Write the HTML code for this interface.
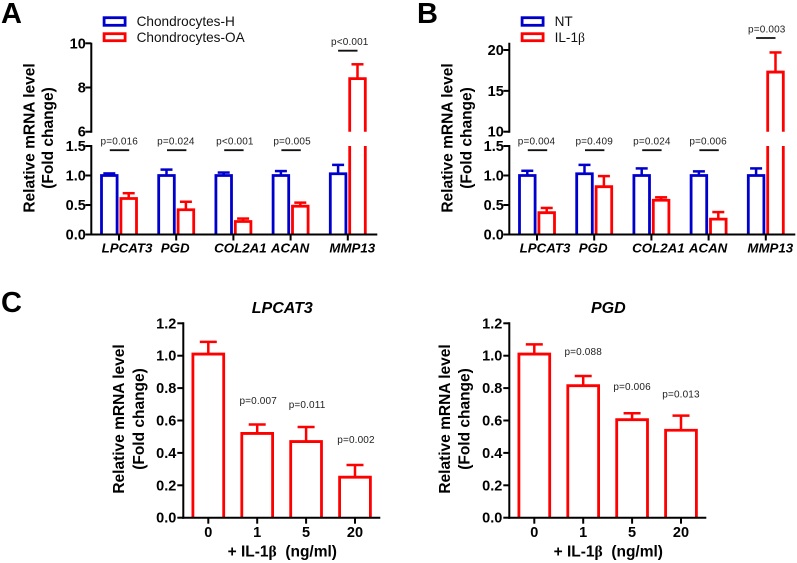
<!DOCTYPE html>
<html><head><meta charset="utf-8">
<style>
html,body{margin:0;padding:0;background:#fff;width:797px;height:563px;overflow:hidden}
svg{display:block}
text{font-family:"Liberation Sans",sans-serif;fill:#000}
.tick{font-size:14.5px;font-weight:bold}
.ytitle{font-size:15.5px;font-weight:bold}
.gene{font-size:13.3px;font-weight:bold;font-style:italic}
.p{font-size:10px;letter-spacing:.15px;fill:#222}
.leg{font-size:13.6px;fill:#111}
.panel{font-size:29px;font-weight:bold}
.beta{font-family:"Liberation Serif",serif}
</style></head>
<body>
<svg id="figure" width="797" height="563" viewBox="0 0 797 563" xmlns="http://www.w3.org/2000/svg"></svg>
<script>
// Panel A data
const genes = ['LPCAT3', 'PGD', 'COL2A1', 'ACAN', 'MMP13'];
const aHealthy = [1.0, 1.0, 1.0, 1.0, 1.03];
const aHealthyCap = [1.035, 1.10, 1.05, 1.075, 1.18];
const aOA = [0.61, 0.42, 0.22, 0.48, 8.4];
const aOACap = [0.70, 0.555, 0.27, 0.54, 9.05];
const aPValues = ['p=0.016', 'p=0.024', 'p<0.001', 'p=0.005', 'p<0.001'];
const aLowerTicks = ['0.0', '0.5', '1.0', '1.5'];
const aUpperTicks = ['6', '8', '10'];
// Panel B data
const bNT = [1.0, 1.03, 1.0, 1.0, 1.0];
const bNTCap = [1.08, 1.18, 1.12, 1.07, 1.12];
const bIL = [0.37, 0.81, 0.58, 0.26, 17.3];
const bILCap = [0.45, 0.99, 0.63, 0.38, 19.7];
const bPValues = ['p=0.004', 'p=0.409', 'p=0.024', 'p=0.006', 'p=0.003'];
const bLowerTicks = ['0.0', '0.5', '1.0', '1.5'];
const bUpperTicks = ['10', '15', '20'];
// Panel C data
const doses = ['0', '1', '5', '20'];
const cTicks = ['0.0', '0.2', '0.4', '0.6', '0.8', '1.0', '1.2'];
const cLpcat3 = [1.01, 0.52, 0.47, 0.25];
const cLpcat3Cap = [1.085, 0.575, 0.56, 0.325];
const cLpcat3P = ['', 'p=0.007', 'p=0.011', 'p=0.002'];
const cPgd = [1.01, 0.815, 0.605, 0.54];
const cPgdCap = [1.07, 0.875, 0.645, 0.63];
const cPgdP = ['', 'p=0.088', 'p=0.006', 'p=0.013'];

const BLUE = '#0000cc', RED = '#ff0000', BLACK = '#000';
const svg = document.getElementById('figure');
const NS = 'http://www.w3.org/2000/svg';
function make(tag, attrs, parent) {
  const e = document.createElementNS(NS, tag);
  for (const k in attrs) e.setAttribute(k, attrs[k]);
  (parent || svg).appendChild(e);
  return e;
}
function line(parent, x1, y1, x2, y2, color, w) {
  return make('line', {x1, y1, x2, y2, stroke: color, 'stroke-width': w}, parent);
}
function label(parent, x, y, str, cls, anchor) {
  const t = make('text', {x, y, class: cls, 'text-anchor': anchor || 'middle'}, parent);
  t.textContent = str;
  return t;
}
function betaLabel(parent, x, y, pre, post, cls, anchor) {
  const t = make('text', {x, y, class: cls, 'text-anchor': anchor || 'middle', 'xml:space': 'preserve'}, parent);
  t.appendChild(document.createTextNode(pre));
  const b = make('tspan', {class: 'beta'}, t);
  b.textContent = '\u03b2';
  if (post) t.appendChild(document.createTextNode(post));
  return t;
}
function yTitle(parent, x1, x2, cy, second) {
  const a = make('text', {transform: 'translate(' + x1 + ',' + cy + ') rotate(-90)', class: 'ytitle', 'text-anchor': 'middle'}, parent);
  a.textContent = 'Relative mRNA level';
  
  
  const b = make('text', {transform: 'translate(' + x2 + ',' + cy + ') rotate(-90)', class: 'ytitle', 'text-anchor': 'middle'}, parent);
  b.textContent = second;
  
  
}

function brokenPanel(o) {
  const g = make('g', {});
  
  
  const yLow = v => 234.5 - v * (234.5 - 146) / 1.5;
  const yHigh = v => o.upperY0 - (v - o.upperMin) * o.upperScale;
  const xGroup = i => o.axisX + 27.7 + i * 57.2;
  const breakAt = 1.5;
  const bw = 15.6, off = 9.7, sw = 2.8;

  function drawSeries(vals, caps, color, dir, name) {
    vals.forEach((v, i) => {
      const cx = xGroup(i) + dir * off;
      const s = make('g', {}, g);
      
      
      const l = cx - bw / 2, r = cx + bw / 2, b = yLow(0) + 0.5;
      const common = {fill: 'none', stroke: color, 'stroke-width': sw};
      if (v <= breakAt) {
        const top = yLow(v);
        const cy = caps[i] <= breakAt ? yLow(caps[i]) : top;
        line(s, cx, top, cx, cy, color, 2.5);
        line(s, cx - 6, cy, cx + 6, cy, color, 2.5);
        make('path', Object.assign({d: 'M' + l + ' ' + b + 'V' + top + 'H' + r + 'V' + b}, common), s);
      } else {
        const top = yHigh(v), cy = yHigh(caps[i]);
        line(s, cx, top, cx, cy, color, 2.5);
        line(s, cx - 6, cy, cx + 6, cy, color, 2.5);
        make('path', Object.assign({d: 'M' + l + ' ' + yHigh(o.upperMin) + 'V' + top + 'H' + r + 'V' + yHigh(o.upperMin)}, common), s);
        make('path', Object.assign({d: 'M' + l + ' ' + b + 'V' + yLow(breakAt) + 'M' + r + ' ' + b + 'V' + yLow(breakAt)}, common), s);
      }
    });
  }
  drawSeries(o.s1, o.s1Cap, BLUE, -1, 'bar-control');
  drawSeries(o.s2, o.s2Cap, RED, 1, 'bar-treated');

  // axes
  const yAxisLow = line(g, o.axisX, yLow(1.5) - 1, o.axisX, yLow(0) + 1, BLACK, 2);
  
  
  const yAxisHigh = line(g, o.axisX, yHigh(o.upperMin) + 1, o.axisX, 42.7, BLACK, 2);
  
  
  const xAxis = line(g, o.axisX - 1, yLow(0), o.axisX + 286, yLow(0), BLACK, 2);
  
  

  o.lowerTicks.forEach(t => {
    const y = yLow(parseFloat(t));
    line(g, o.axisX - 6, y, o.axisX, y, BLACK, 2);
    const e = label(g, o.axisX - 5.5, y + 5, t, 'tick', 'end');
    
    
  });
  o.upperTicks.forEach(t => {
    const y = yHigh(parseFloat(t));
    line(g, o.axisX - 6, y, o.axisX, y, BLACK, 2);
    const e = label(g, o.axisX - 5.5, y + 5, t, 'tick', 'end');
    
    
  });
  genes.forEach((n, i) => {
    const x = xGroup(i);
    line(g, x, yLow(0), x, yLow(0) + 6, BLACK, 2);
    const e = label(g, x + o.geneOffsets[i], 252.5, n, 'gene');
    
    
    const last = i === genes.length - 1;
    const ly = last ? o.topLineY : 150.2;
    const sig = line(g, x - 9.7 + (last ? 0 : 0.5), ly, x + 9.7 + (last ? 0 : 0.5), ly, '#111', 1.8);
    
    
    const p = label(g, x + o.pOffsets[i], last ? o.topLabelY : 144.5, o.p[i], 'p');
    
    
  });
  yTitle(g, o.titleX1, o.titleX2, 138, '(Fold change)');

  // legend
  const lx = o.axisX + 12.8;
  const r1 = make('rect', {x: lx, y: 17.7, width: 21, height: 7.6, fill: 'none', stroke: BLUE, 'stroke-width': 2.8}, g);
  
  
  const r2 = make('rect', {x: lx, y: 33.7, width: 21, height: 7, fill: 'none', stroke: RED, 'stroke-width': 2.8}, g);
  
  
  const t1 = label(g, lx + 32.5, 26, o.legend[0], 'leg', 'start');
  
  
  const t2 = o.legendBeta
    ? betaLabel(g, lx + 32.5, 42, 'IL-1', '', 'leg', 'start')
    : label(g, lx + 32.5, 42, o.legend[1], 'leg', 'start');
  
  
  const pl = label(g, o.letterX, 23, o.letter, 'panel', 'start');
  
  
}

function dosePanel(o) {
  const g = make('g', {});
  
  
  const y0 = 517.7, k = (517.7 - 323.3) / 1.2;
  const yS = v => y0 - v * k;
  const xS = i => o.axisX + 25 + i * 48.9;
  o.vals.forEach((v, i) => {
    const cx = xS(i), l = cx - 15.4, r = cx + 15.4, top = yS(v), cy = yS(o.caps[i]);
    const s = make('g', {}, g);
    
    
    line(s, cx, top, cx, cy, RED, 2.5);
    line(s, cx - 8.5, cy, cx + 8.5, cy, RED, 2.5);
    make('path', {d: 'M' + l + ' ' + (y0 + 0.5) + 'V' + top + 'H' + r + 'V' + (y0 + 0.5), fill: 'none', stroke: RED, 'stroke-width': 2.8}, s);
    if (o.p[i]) {
      const p = label(g, cx + o.pDx, cy + o.pGap[i], o.p[i], 'p');
      
      
    }
    line(g, cx, y0, cx, y0 + 6, BLACK, 2);
    const t = label(g, cx, 537, doses[i], 'tick');
    
    
  });
  const ya = line(g, o.axisX, 322.3, o.axisX, y0 + 1, BLACK, 2);
  
  
  const xa = line(g, o.axisX - 1, y0, o.axisX + 197, y0, BLACK, 2);
  
  
  cTicks.forEach(t => {
    const y = yS(parseFloat(t));
    line(g, o.axisX - 6, y, o.axisX, y, BLACK, 2);
    const e = label(g, o.axisX - 7, y + 5, t, 'tick', 'end');
    
    
  });
  yTitle(g, o.titleX1, o.titleX2, 419, '(Fold change)');
  const ti = make('text', {x: o.axisX + 99, y: 313, 'text-anchor': 'middle', style: 'font-size:16px;font-weight:bold;font-style:italic'}, g);
  ti.textContent = o.title;
  
  
  const xt = betaLabel(g, o.axisX + 99, 556.5, '+ IL-1', ' \u00a0(ng/ml)', 'ytitle');
  
  
}

brokenPanel({
  name: 'panel-a', letter: 'A', letterX: 1, axisX: 91.3,
  s1: aHealthy, s1Cap: aHealthyCap, s2: aOA, s2Cap: aOACap,
  p: aPValues, lowerTicks: aLowerTicks, upperTicks: aUpperTicks,
  upperMin: 6, upperY0: 131.7, upperScale: (131.7 - 43.3) / 4,
  topLineY: 50.7, topLabelY: 45,
  geneOffsets: [8, -1, 7, -0.5, 4.5], pOffsets: [0.3, -0.3, 1.5, 1.5, 2],
  titleX1: 34.5, titleX2: 53, legend: ['Chondrocytes-H', 'Chondrocytes-OA'], legendBeta: false
});
brokenPanel({
  name: 'panel-b', letter: 'B', letterX: 417, axisX: 509.3,
  s1: bNT, s1Cap: bNTCap, s2: bIL, s2Cap: bILCap,
  p: bPValues, lowerTicks: bLowerTicks, upperTicks: bUpperTicks,
  upperMin: 10, upperY0: 131.7, upperScale: (131.7 - 50) / 10,
  topLineY: 38, topLabelY: 32.5,
  geneOffsets: [8, -1, 7, -0.5, 4.5], pOffsets: [-0.5, 0, 0.5, -0.5, 1],
  titleX1: 452.7, titleX2: 471.5, legend: ['NT', 'IL-1\u03b2'], legendBeta: true
});
const letterC = label(svg, 1, 312, 'C', 'panel', 'start');


dosePanel({
  name: 'panel-c-lpcat3', title: 'LPCAT3', axisX: 183.3,
  vals: cLpcat3, caps: cLpcat3Cap, p: cLpcat3P, pGap: [0, -20.6, -19, -22], pDx: 1,
  titleX1: 124, titleX2: 144
});
dosePanel({
  name: 'panel-c-pgd', title: 'PGD', axisX: 509.3,
  vals: cPgd, caps: cPgdCap, p: cPgdP, pGap: [0, -21, -23, -18], pDx: 0,
  titleX1: 450, titleX2: 469.5
});
</script>
</body></html>
